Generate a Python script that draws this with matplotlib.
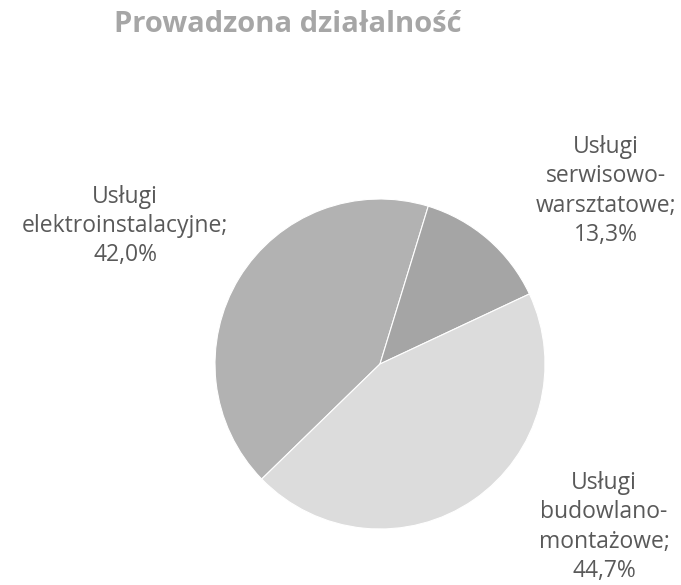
import matplotlib

matplotlib.use("Agg")

import matplotlib.pyplot as plt

# data
categories = ["Usługi\nelektroinstalacyjne;", "Usługi\nserwisowo-\nwarsztatowe;",
              "Usługi\nbudowlano-\nmontażowe;"]
shares = [42.0, 13.3, 44.7]
colors = ["#b2b2b2", "#a5a5a5", "#dcdcdc"]

W, H = 681, 585
fig = plt.figure(figsize=(W / 100, H / 100), dpi=100)
ax = fig.add_axes([0, 0, 1, 1])

cx, cy, r = 380, H - 364, 165
ax.pie(shares, colors=colors, startangle=-135.8, counterclock=False,
       center=(cx, cy), radius=r, frame=True,
       wedgeprops=dict(edgecolor="white", linewidth=0.8))
ax.set_xlim(0, W)
ax.set_ylim(0, H)
ax.set_aspect("equal")
ax.axis("off")

# label positions (pixel coords, centre of text block)
label_xy = [(125, H - 226), (606, H - 191), (604, H - 527)]
for name, val, (x, y) in zip(categories, shares, label_xy):
    txt = f"{name}\n{val:.1f}%".replace(".", ",")
    ax.text(x, y, txt, ha="center", va="center", fontsize=16.5,
            family="Open Sans", color="#595959", linespacing=1.3)

fig.text(288 / W, 1 - 25 / H, "Prowadzona działalność", ha="center",
         va="center", fontsize=21, fontweight="bold", family="Open Sans",
         color="#a6a6a6")

fig.savefig("out.png", dpi=100, facecolor="white")
